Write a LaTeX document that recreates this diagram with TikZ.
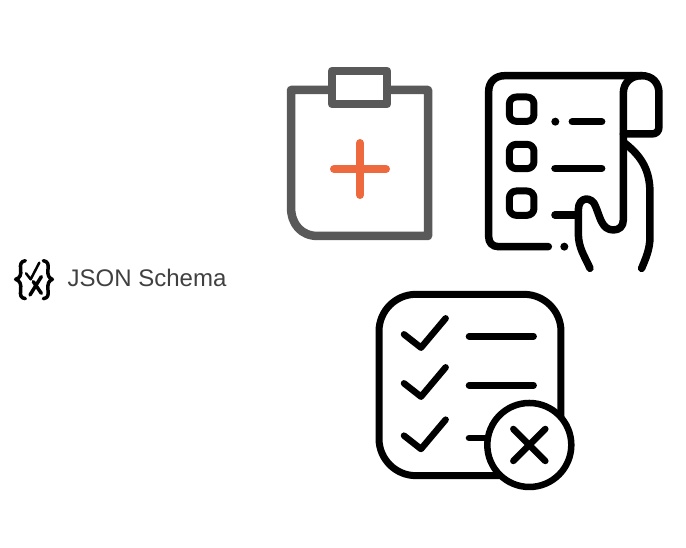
\documentclass[tikz,border=0pt]{standalone}
\usepackage{fontspec}
\setmainfont{Liberation Sans}
\definecolor{boardgray}{HTML}{595959}
\definecolor{plusorange}{HTML}{EE6A3E}
\definecolor{labelgray}{HTML}{404040}
\tikzstyle{icon} = [
  draw=black,
  line width=7.5pt,
  line cap=round,
  line join=round,
]
\tikzstyle{board} = [
  icon,
  draw=boardgray,
  line width=8.5pt,
]
\tikzstyle{zoomed} = [
  x=0.3333pt,
  y=-0.3333pt,
]

\begin{document}
\begin{tikzpicture}[x=1pt,y=-1pt]
      \useasboundingbox (0,0) rectangle (686,548);

      % Label
      \node[anchor=base west,inner sep=0pt,text=labelgray,font=\fontsize{24}{24}\selectfont] (label) at (67.5,287) {JSON Schema};

      % Logo
      \begin{scope}[shift={(0,240)},zoomed]
        \draw[icon,line width=3.5pt] (76,62) .. controls (62,64) and (60,74) .. (62,88)
          .. controls (64,105) and (60,114) .. (47,118)
          .. controls (60,122) and (64,132) .. (62,150)
          .. controls (60,166) and (62,174) .. (76,176);
        \draw[icon,line width=3.5pt] (130,62) .. controls (144,64) and (146,74) .. (144,88)
          .. controls (142,105) and (146,114) .. (157,118)
          .. controls (146,122) and (142,132) .. (144,150)
          .. controls (146,166) and (144,174) .. (130,176);
        \draw[icon,line width=2.5pt] (78,100) -- (92,118) -- (118,68);
        \draw[icon,line width=3.5pt] (90,165) -- (124,110);
        \draw[icon,line width=3.5pt] (100,125) -- (124,160);
      \end{scope}

      % Clipboard
      \draw[board,line cap=butt] (332,90) -- (291,90) -- (291,207)
        .. controls (291,224) and (301,236) .. (318,236) -- (428,236) -- (428,90) -- (387,90);
      \draw[board] (332,71) rectangle (387,104);
      \draw[icon,draw=plusorange,line width=8pt] (334,169) -- (386,169);
      \draw[icon,draw=plusorange,line width=8pt] (360,143) -- (360,195);

      % Scroll and hand
      \begin{scope}[shift={(475,60)},zoomed]
        \draw[icon] (220,560) -- (70,560) .. controls (52,560) and (41,548) .. (41,530)
          -- (41,95) .. controls (41,66) and (60,47) .. (90,47) -- (500,47)
          .. controls (532,47) and (552,68) .. (552,100) -- (552,200)
          .. controls (552,214) and (544,222) .. (530,222) -- (445,222);
        \draw[icon] (500,47) .. controls (468,47) and (445,68) .. (445,100) -- (445,480)
          .. controls (445,500) and (432,510) .. (415,510)
          .. controls (380,510) and (375,470) .. (362,440)
          .. controls (352,408) and (310,408) .. (310,450)
          -- (310,520) .. controls (310,565) and (330,590) .. (345,625);
        \draw[icon] (450,250) .. controls (500,290) and (525,330) .. (525,400)
          -- (525,530) .. controls (525,570) and (510,600) .. (500,625);
        \draw[icon] (240,465) -- (310,465);
        % Rows
        \foreach \rowy in {111,253,393}
          \draw[icon,line width=7pt,rounded corners=7pt] (103,\rowy) rectangle (177,\rowy+73);
        \draw[icon] (292,185) -- (380,185);
        \draw[icon] (240,325) -- (380,325);
        \fill (241,185) circle (4pt);
        \fill (268,560) circle (4pt);
      \end{scope}

      % Checklist
      \begin{scope}[shift={(365,285)},zoomed]
        \draw[icon,line width=7pt,rounded corners=37pt] (42,28) rectangle (588,572);
        \foreach \rowy in {148,295,452} {
          \draw[icon,line width=6.5pt] (117,\rowy) -- (168,\rowy+40) -- (242,\rowy-48);
        }
        \draw[icon,line width=6.5pt] (312,154) -- (506,154);
        \draw[icon,line width=6.5pt] (312,301) -- (506,301);
        \draw[icon,line width=6.5pt] (312,459) -- (370,459);
        % Cross badge
        \draw[icon,line width=6.5pt,fill=white] (493,480) circle (42pt);
        \draw[icon,line width=6.5pt] (445,432) -- (541,528);
        \draw[icon,line width=6.5pt] (541,432) -- (445,528);
      \end{scope}
    \end{tikzpicture}
\end{document}
